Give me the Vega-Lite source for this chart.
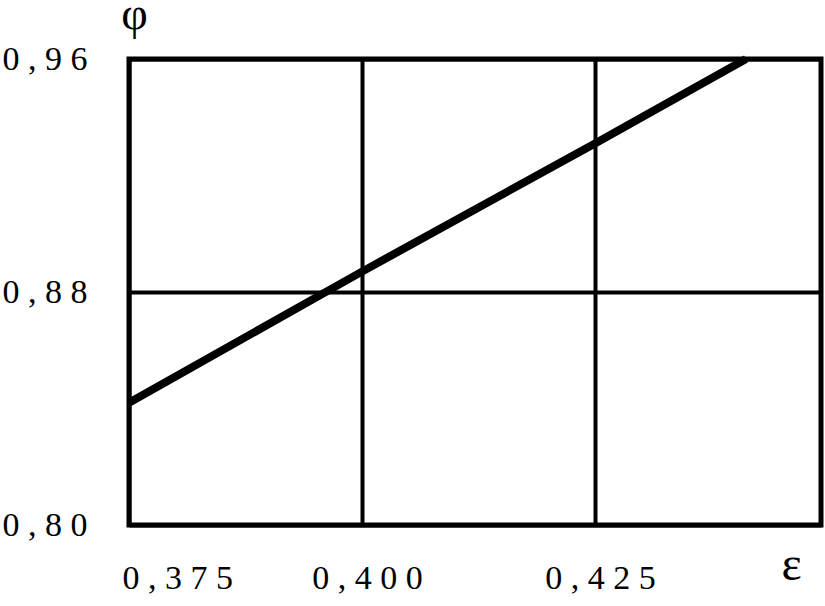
{
  "$schema": "https://vega.github.io/schema/vega-lite/v6.json",
  "width": 692,
  "height": 466,
  "autosize": "none",
  "padding": {"left": 129, "top": 59, "right": 4, "bottom": 81},
  "background": "white",
  "config": {
    "view": {"stroke": "black", "strokeWidth": 5},
    "axis": {
      "labelFont": "Liberation Serif, serif",
      "labelFontSize": 34,
      "labelColor": "black",
      "titleFont": "Liberation Serif, serif",
      "titleFontWeight": "normal",
      "titleColor": "black",
      "domain": false,
      "ticks": false,
      "tickSize": 0,
      "grid": true,
      "gridColor": "black",
      "gridWidth": 4,
      "gridOpacity": 1
    }
  },
  "data": {
    "values": [
      {"eps": 0.375, "phi": 0.842},
      {"eps": 0.400, "phi": 0.887},
      {"eps": 0.425, "phi": 0.931},
      {"eps": 0.4412, "phi": 0.96}
    ]
  },
  "mark": {"type": "line", "color": "black", "strokeWidth": 8, "clip": false},
  "encoding": {
    "x": {
      "field": "eps",
      "type": "quantitative",
      "scale": {"domain": [0.375, 0.44925], "nice": false, "zero": false},
      "axis": {
        "values": [0.375, 0.4, 0.425],
        "labelExpr": "replace(join(split(format(datum.value, '.3f'), ''), ' '), '.', ',')",
        "labelBaseline": "alphabetic",
        "labelPadding": 63,
        "labelOffset": 5,
        "labelFlush": true,
        "labelFlushOffset": 12,
        "title": "ε",
        "titleFontSize": 48,
        "titleX": 662,
        "titleY": 54,
        "titleAlign": "center",
        "titleBaseline": "alphabetic"
      }
    },
    "y": {
      "field": "phi",
      "type": "quantitative",
      "scale": {"domain": [0.80, 0.96], "nice": false, "zero": false},
      "axis": {
        "values": [0.80, 0.88, 0.96],
        "labelExpr": "replace(join(split(format(datum.value, '.2f'), ''), ' '), '.', ',')",
        "labelAlign": "right",
        "labelBaseline": "middle",
        "labelPadding": 42,
        "title": "φ",
        "titleFontSize": 46,
        "titleAngle": 0,
        "titleX": 5,
        "titleY": -31,
        "titleAlign": "center",
        "titleBaseline": "alphabetic"
      }
    }
  }
}
